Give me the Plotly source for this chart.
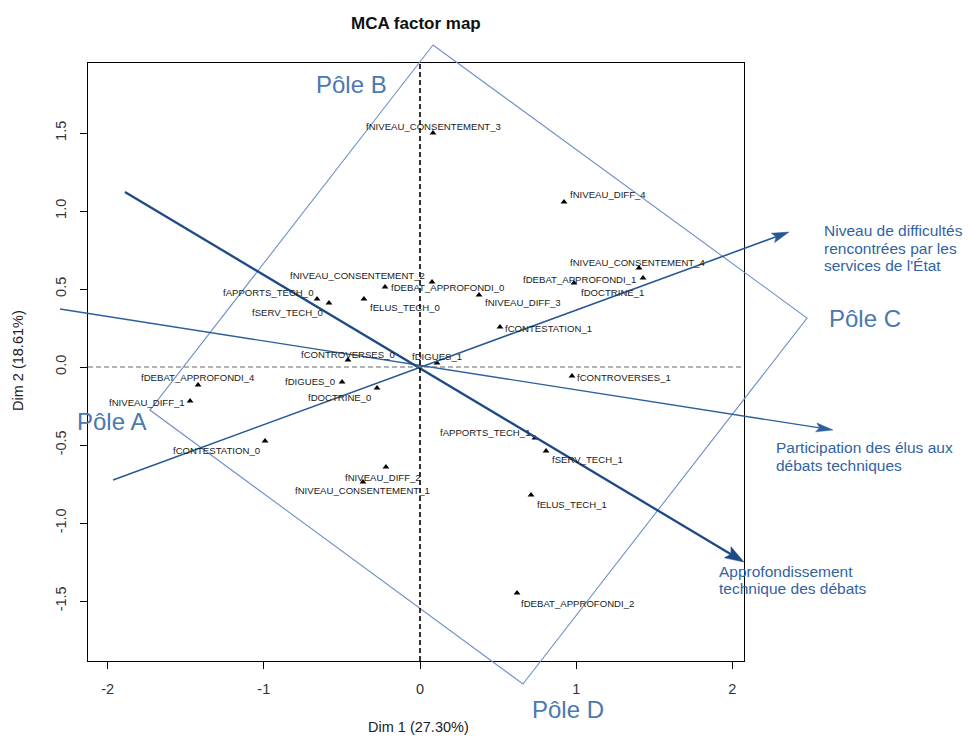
import plotly.graph_objects as go
import numpy as np

# ---------------- data ----------------
categories = [
    "fNIVEAU_CONSENTEMENT_3", "fNIVEAU_DIFF_4", "fNIVEAU_CONSENTEMENT_4",
    "fDEBAT_APPROFONDI_1", "fDOCTRINE_1", "fNIVEAU_CONSENTEMENT_2",
    "fDEBAT_APPROFONDI_0", "fNIVEAU_DIFF_3", "fAPPORTS_TECH_0",
    "fSERV_TECH_0", "fELUS_TECH_0", "fCONTESTATION_1",
    "fCONTROVERSES_0", "fDIGUES_1", "fDIGUES_0", "fDOCTRINE_0",
    "fDEBAT_APPROFONDI_4", "fNIVEAU_DIFF_1", "fCONTESTATION_0",
    "fCONTROVERSES_1", "fAPPORTS_TECH_1", "fSERV_TECH_1",
    "fNIVEAU_DIFF_2", "fNIVEAU_CONSENTEMENT_1", "fELUS_TECH_1",
    "fDEBAT_APPROFONDI_2",
]
dim1 = [0.083, 0.922, 1.402, 1.428, 0.986, 0.077, -0.224, 0.378, -0.659,
        -0.583, -0.359, 0.512, -0.461, 0.109, -0.499, -0.275, -1.421,
        -1.472, -0.992, 0.973, 0.736, 0.807, -0.218, -0.365, 0.711, 0.621]
dim2 = [1.500, 1.058, 0.635, 0.571, 0.538, 0.545, 0.513, 0.462, 0.436,
        0.410, 0.436, 0.256, 0.045, 0.026, -0.096, -0.135, -0.115,
        -0.218, -0.474, -0.058, -0.455, -0.538, -0.641, -0.737, -0.821,
        -1.449]

x_ticks = [-2, -1, 0, 1, 2]
x_tick_labels = ["-2", "-1", "0", "1", "2"]
y_ticks = [-1.5, -1.0, -0.5, 0.0, 0.5, 1.0, 1.5]
y_tick_labels = ["-1.5", "-1.0", "-0.5", "0.0", "0.5", "1.0", "1.5"]

# interpretive overlay (in factor-map units)
pole_box_x = [0.083, 2.478, 0.659, -1.729, 0.083]
pole_box_y = [2.064, 0.314, -2.032, -0.276, 2.064]
arrow_names = ["niveau", "participation", "approfondissement"]
arrow_tail_x = [-1.965, -2.305, -1.889]
arrow_tail_y = [-0.724, 0.372, 1.122]
arrow_head_x = [2.362, 2.644, 2.074]
arrow_head_y = [0.865, -0.404, -1.250]

# ---------------- label placement (style) ----------------
label_anchor = ["center", "left", "center", "right", "left", "right",
                "left", "left", "right", "right", "left", "left",
                "center", "center", "right", "right", "center", "right",
                "right", "left", "right", "left", "center", "center",
                "left", "left"]
label_dx = [1, 4, -0.5, -5, 5, -5, 4, 4, -2, -4, 4, 3, 0, 0, -5, -4, 0,
            -3, -3, 3, -3, 4, -3, 0, 4, 2]
label_dy = [-7, -7, -5, 2, 9, -6, 1, 8, -6, 9, 9, 1, -5, -6, 0, 9, -7, 1,
            10, 1, -5, 9, 10, 9, 9, 10]

W, H = 968, 739
xdom = [88 / W, 744 / W]
ydom = [(H - 661) / H, (H - 63) / H]
xr = [-2.1255, 2.0743]
yr = [-1.8846, 1.9487]

# full-figure overlay axes with the same scale as the factor map
sx = (xr[1] - xr[0]) / (xdom[1] - xdom[0])
sy = (yr[1] - yr[0]) / (ydom[1] - ydom[0])
x2r = [xr[0] - xdom[0] * sx, xr[1] + (1 - xdom[1]) * sx]
y2r = [yr[0] - ydom[0] * sy, yr[1] + (1 - ydom[1]) * sy]
ppx = W / sx  # pixels per unit
ppy = H / sy

FONT = "Liberation Sans, Arial, sans-serif"
TXT_BLUE = "#3363a2"
POLE_BLUE = "#4a78b0"

fig = go.Figure()

# categories
fig.add_trace(go.Scatter(
    x=dim1, y=dim2, mode="markers",
    marker=dict(symbol="triangle-up", size=6, color="black"),
    hoverinfo="text", text=categories, showlegend=False,
    xaxis="x", yaxis="y",
))

# pole box
fig.add_trace(go.Scatter(
    x=pole_box_x, y=pole_box_y, mode="lines",
    line=dict(color="#7190c8", width=1.1),
    showlegend=False, hoverinfo="skip", xaxis="x2", yaxis="y2",
))

arrow_styles = {
    "niveau": dict(color="#275895", width=1.6, L=17, hw=5.0),
    "participation": dict(color="#2c5f9e", width=1.4, L=17, hw=4.5),
    "approfondissement": dict(color="#1c4a87", width=2.3, L=19, hw=6.5),
}
for name, tx, ty, hx, hy in zip(arrow_names, arrow_tail_x, arrow_tail_y,
                               arrow_head_x, arrow_head_y):
    st = arrow_styles[name]
    dxp = (hx - tx) * ppx
    dyp = (hy - ty) * ppy
    n = np.hypot(dxp, dyp)
    ux, uy = dxp / n, dyp / n
    px_, py_ = -uy, ux
    L, hw = st["L"], st["hw"]
    bx = hx - ux * L / ppx
    by = hy - uy * L / ppy
    nx_ = hx - ux * (L * 0.8) / ppx
    ny_ = hy - uy * (L * 0.8) / ppy
    fig.add_trace(go.Scatter(
        x=[tx, nx_], y=[ty, ny_], mode="lines",
        line=dict(color=st["color"], width=st["width"]),
        showlegend=False, hoverinfo="skip", xaxis="x2", yaxis="y2",
    ))
    fig.add_trace(go.Scatter(
        x=[hx, bx + px_ * hw / ppx, nx_, bx - px_ * hw / ppx, hx],
        y=[hy, by + py_ * hw / ppy, ny_, by - py_ * hw / ppy, hy],
        mode="lines", fill="toself", fillcolor=st["color"],
        line=dict(color=st["color"], width=0.5),
        showlegend=False, hoverinfo="skip", xaxis="x2", yaxis="y2",
    ))

annotations = []
for c, x, y, a, dx, dy in zip(categories, dim1, dim2, label_anchor,
                              label_dx, label_dy):
    annotations.append(dict(
        x=x, y=y, xref="x", yref="y", text=c, showarrow=False,
        xanchor=a, yanchor="middle", xshift=dx, yshift=-dy,
        font=dict(family=FONT, size=9.6, color="#1a1a1a"),
    ))


def ptext(text, xpx, ypx, size, color, xanchor="left", bold=False):
    return dict(
        x=xpx / W, y=1 - ypx / H, xref="paper", yref="paper",
        text=("<b>%s</b>" % text) if bold else text, showarrow=False,
        xanchor=xanchor, yanchor="middle",
        font=dict(family=FONT, size=size, color=color),
    )


annotations += [
    ptext("Niveau de difficultés", 822, 230, 15.5, TXT_BLUE),
    ptext("rencontrées par les", 822, 248, 15.5, TXT_BLUE),
    ptext("services de l'État", 822, 265, 15.5, TXT_BLUE),
    ptext("Participation des élus aux", 774, 447, 15.5, TXT_BLUE),
    ptext("débats techniques", 774, 465, 15.5, TXT_BLUE),
    ptext("Approfondissement", 717, 571, 15.5, TXT_BLUE),
    ptext("technique des débats", 717, 588, 15.5, TXT_BLUE),
    ptext("Pôle A", 75, 421, 24, POLE_BLUE),
    ptext("Pôle B", 314, 85, 24, POLE_BLUE),
    ptext("Pôle C", 827, 318, 24, POLE_BLUE),
    ptext("Pôle D", 530, 709, 24, POLE_BLUE),
    ptext("MCA factor map", 416, 24, 17, "#111", xanchor="center", bold=True),
    ptext("Dim 1 (27.30%)", 418, 727, 14.5, "#222", xanchor="center"),
]
annotations.append(dict(
    x=18 / W, y=1 - 361 / H, xref="paper", yref="paper",
    text="Dim 2 (18.61%)", showarrow=False, textangle=-90,
    xanchor="center", yanchor="middle",
    font=dict(family=FONT, size=14.5, color="#222"),
))

shapes = [
    dict(type="line", xref="x", yref="y domain", x0=0, x1=0, y0=0, y1=1,
         line=dict(color="black", width=1.6, dash="5px,3px")),
    dict(type="line", xref="x domain", yref="y", x0=0, x1=1, y0=0, y1=0,
         line=dict(color="#666666", width=1.2, dash="5px,3px")),
]

axis_common = dict(
    showline=True, mirror=True, linecolor="black", linewidth=1,
    ticks="outside", ticklen=7, tickcolor="black", tickwidth=1,
    showgrid=False, zeroline=False, automargin=False,
    tickfont=dict(family=FONT, size=14.5, color="#333"),
    ticklabelstandoff=8,
)

fig.update_layout(
    width=W, height=H,
    margin=dict(l=0, r=0, t=0, b=0, pad=0),
    paper_bgcolor="white", plot_bgcolor="rgba(0,0,0,0)",
    showlegend=False,
    xaxis=dict(domain=xdom, range=xr, tickvals=x_ticks,
               ticktext=x_tick_labels, anchor="y", **axis_common),
    yaxis=dict(domain=ydom, range=yr, tickvals=y_ticks,
               ticktext=y_tick_labels, anchor="x", tickangle=-90,
               **axis_common),
    xaxis2=dict(domain=[0, 1], range=x2r, visible=False, anchor="y2",
                fixedrange=True),
    yaxis2=dict(domain=[0, 1], range=y2r, visible=False, anchor="x2",
                fixedrange=True),
    annotations=annotations,
    shapes=shapes,
)

fig.write_html(
    "out.html",
    config={"displayModeBar": False},
    post_script="document.body.style.margin='0px';"
                "document.body.style.overflow='hidden';",
)
